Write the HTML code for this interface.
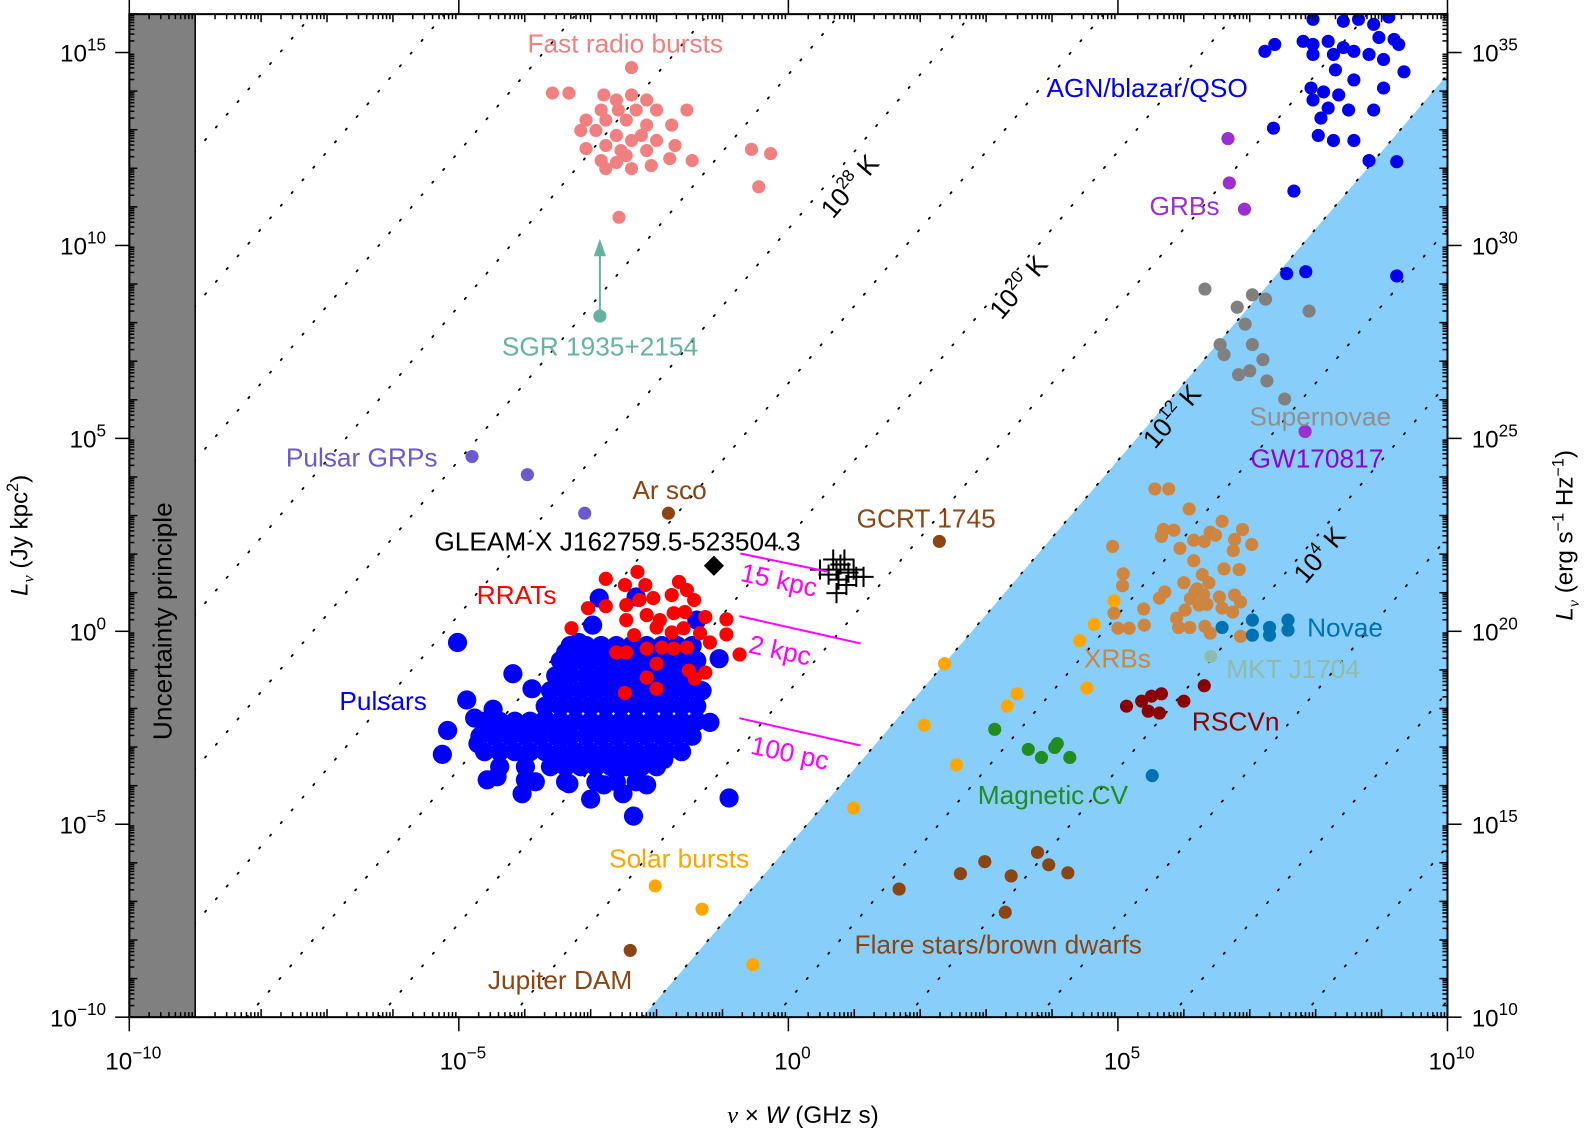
<!DOCTYPE html>
<html><head><meta charset="utf-8"><style>
html,body{margin:0;padding:0;background:#fff;overflow:hidden;width:1584px;height:1132px;}
svg{display:block;font-family:"Liberation Sans",Arial,sans-serif;overflow:hidden;}
</style></head><body>
<svg id="chart" width="1584" height="1132" viewBox="0 0 1584 1132">
<defs><clipPath id="plotclip"><rect x="128" y="14" width="1305" height="993"/></clipPath></defs>
<g transform="scale(1.0101)">
<g id="bg" clip-path="url(#plotclip)"></g>
<g id="marks" clip-path="url(#plotclip)"></g>
<g id="axes"></g>
<g font-size="26">
<text x="619" y="52" text-anchor="middle" fill="#f08080">Fast radio bursts</text>
<text x="1036" y="96" fill="#0000ee">AGN/blazar/QSO</text>
<text x="1138" y="213" fill="#9b30d0">GRBs</text>
<text x="594" y="352" text-anchor="middle" fill="#66b2a0">SGR 1935+2154</text>
<text x="1237" y="421" fill="#909090">Supernovae</text>
<text x="1238" y="463" fill="#9400d3">GW170817</text>
<text x="283" y="462" fill="#6a5acd">Pulsar GRPs</text>
<text x="626" y="494" fill="#8b4513">Ar sco</text>
<text x="848" y="522" fill="#8b4513">GCRT 1745</text>
<text x="430" y="545" fill="#000">GLEAM-X J162759.5-523504.3</text>
<text x="472" y="598" fill="#ff0000">RRATs</text>
<text x="336" y="703" fill="#0000ff">Pulsars</text>
<text x="1073" y="661" fill="#cd853f">XRBs</text>
<text x="1294" y="630" fill="#0072b2">Novae</text>
<text x="1214" y="671" fill="#8fbcaa">MKT J1704</text>
<text x="1180" y="723" fill="#8b0000">RSCVn</text>
<text x="968" y="796" fill="#228b22">Magnetic CV</text>
<text x="603" y="859" fill="#ffa500">Solar bursts</text>
<text x="846" y="944" fill="#8b4513">Flare stars/brown dwarfs</text>
<text x="483" y="979" fill="#8b4513">Jupiter DAM</text>
<text transform="translate(732,575) rotate(12)" fill="#ff00ff">15 kpc</text>
<text transform="translate(740,646) rotate(12)" fill="#ff00ff">2 kpc</text>
<text transform="translate(742,746) rotate(12)" fill="#ff00ff">100 pc</text>
<text transform="translate(170,615) rotate(-90)" text-anchor="middle" fill="#000">Uncertainty principle</text>
<text transform="translate(848,190) rotate(-49.5)" text-anchor="middle" fill="#000">10<tspan dy="-11" font-size="17">28</tspan><tspan dy="11"> K</tspan></text>
<text transform="translate(1015,290) rotate(-49.5)" text-anchor="middle" fill="#000">10<tspan dy="-11" font-size="17">20</tspan><tspan dy="11"> K</tspan></text>
<text transform="translate(1167,418) rotate(-49.5)" text-anchor="middle" fill="#000">10<tspan dy="-11" font-size="17">12</tspan><tspan dy="11"> K</tspan></text>
<text transform="translate(1313,555) rotate(-49.5)" text-anchor="middle" fill="#000">10<tspan dy="-11" font-size="17">4</tspan><tspan dy="11"> K</tspan></text>
</g>
<g font-size="24">
<text x="795" y="1112" text-anchor="middle"><tspan font-style="italic" font-family="Liberation Serif">ν</tspan> × <tspan font-style="italic">W</tspan> (GHz s)</text>
<text transform="translate(27,530) rotate(-90)" text-anchor="middle"><tspan font-style="italic">L</tspan><tspan font-style="italic" font-size="16" dy="6" font-family="Liberation Serif">ν</tspan><tspan dy="-6"> (Jy kpc</tspan><tspan dy="-9" font-size="16">2</tspan><tspan dy="9">)</tspan></text>
<text transform="translate(1557,530) rotate(-90)" text-anchor="middle"><tspan font-style="italic">L</tspan><tspan font-style="italic" font-size="16" dy="6" font-family="Liberation Serif">ν</tspan><tspan dy="-6"> (erg s</tspan><tspan dy="-9" font-size="16">−1</tspan><tspan dy="9"> Hz</tspan><tspan dy="-9" font-size="16">−1</tspan><tspan dy="9">)</tspan></text>
</g>
</g>
</svg>
<script>
// ---- data (log10 values: x = nu*W in GHz s, y = L_nu in Jy kpc^2) ----
const xTickExps = [-10,-5,0,5,10];
const yTickExps = [-10,-5,0,5,10,15];
const rightTickExps = [10,15,20,25,30,35];
const tempLineOffsets = [-29.57,-25.57,-21.57,-17.57,-13.57,-9.57,-5.57,-1.57,2.43,6.43,10.43,14.43,18.43,22.43,26.43,30.43,34.43];
const brightEdgeOffset = -5.57;
const uncertaintyLimit = -9;

const frb = [[-2.38,14.61],[-3.58,13.95],[-3.33,13.95],[-2.80,13.90],[-2.61,13.77],[-2.38,13.90],[-2.15,13.77],[-2.84,13.51],[-2.58,13.51],[-2.31,13.51],[-2.00,13.51],[-1.54,13.51],[-3.07,13.25],[-2.77,13.25],[-2.46,13.25],[-2.15,13.12],[-1.77,13.12],[-2.92,12.98],[-2.61,12.85],[-2.23,12.85],[-3.15,12.98],[-2.77,12.59],[-2.38,12.72],[-2.00,12.72],[-3.07,12.51],[-2.54,12.46],[-2.15,12.46],[-1.72,12.59],[-2.84,12.20],[-2.61,12.15],[-2.38,11.99],[-2.08,12.07],[-1.80,12.25],[-1.46,12.20],[-2.77,11.99],[-2.46,12.33],[-0.56,12.49],[-0.27,12.38],[-0.45,11.52],[-2.57,10.73]];
const sgr = [[-2.86,8.17]];
const agn = [[7.23,15.03],[7.38,15.21],[7.81,15.29],[7.96,15.21],[8.19,15.29],[8.42,15.13],[8.65,15.86],[8.88,15.73],[9.11,15.92],[9.19,15.34],[9.26,15.21],[7.96,14.95],[8.27,14.95],[8.58,15.03],[8.81,14.95],[9.03,14.82],[8.30,14.55],[9.34,14.50],[7.93,14.08],[8.12,13.98],[8.35,13.90],[8.58,14.29],[7.96,13.77],[8.19,13.56],[8.50,13.51],[8.88,13.51],[7.36,13.04],[8.04,12.85],[8.27,12.72],[8.58,12.72],[8.08,13.30],[7.96,15.86],[8.42,15.81],[8.81,12.20],[9.23,12.17],[7.67,11.41],[7.56,9.27],[7.85,9.32],[9.23,9.21],[9.03,14.08],[8.96,15.39]];
const grb = [[6.67,12.77],[6.69,11.62],[6.92,10.94]];
const gw = [[7.84,5.18]];
const sne = [[6.32,8.87],[6.81,8.40],[7.04,8.72],[7.24,8.61],[6.93,7.96],[6.55,7.43],[6.61,7.17],[7.04,7.43],[7.20,7.04],[6.83,6.65],[7.00,6.75],[7.26,6.49],[7.53,6.02],[7.90,8.30]];
const grp = [[-4.80,4.53],[-3.96,4.06],[-3.09,3.06]];
const arsco = [[-1.82,3.06]];
const gcrt = [[2.29,2.33]];
const gleamx = [[-1.13,1.70]];
const gleamPulses = [[0.68,1.86],[0.79,1.73],[0.91,1.52],[1.03,1.41],[0.61,1.47],[0.76,1.34],[0.88,1.20],[0.73,0.99],[0.99,1.60],[1.14,1.41],[0.48,1.60],[0.73,1.60],[0.85,1.86]];
const jupiter = [[-2.40,-8.27]];
const solar = [[-2.02,-6.60],[-1.31,-7.20],[-0.54,-8.64],[0.99,-4.58],[2.06,-2.43],[2.37,-0.84],[2.55,-3.46],[3.32,-1.94],[3.47,-1.62],[4.42,-0.24],[4.64,0.18],[4.53,-1.47],[4.94,0.79]];
const mcv = [[3.13,-2.54],[3.64,-3.06],[3.84,-3.27],[4.04,-3.01],[4.08,-2.91],[4.27,-3.27]];
const flare = [[1.68,-6.68],[2.61,-6.28],[2.98,-5.97],[3.38,-6.34],[3.78,-5.73],[3.95,-6.05],[4.24,-6.26],[3.29,-7.28]];
const rscvn = [[5.13,-1.94],[5.36,-1.81],[5.46,-2.07],[5.51,-1.68],[5.66,-1.62],[5.63,-2.12],[6.00,-1.81],[6.31,-1.41]];
const novae = [[6.58,0.10],[7.04,0.29],[7.30,0.10],[7.58,0.29],[7.04,-0.10],[7.30,-0.10],[7.58,0.03],[5.52,-3.74]];
const mkt = [[6.41,-0.65]];
const xrb = [[5.56,3.69],[5.77,3.69],[6.08,3.17],[6.58,2.85],[5.69,2.64],[5.85,2.62],[5.66,2.46],[6.15,2.36],[6.31,2.33],[6.40,2.57],[6.48,2.49],[6.77,2.38],[6.89,2.64],[7.03,2.25],[6.75,2.09],[4.92,2.20],[5.94,2.15],[6.15,1.83],[6.61,1.62],[6.84,1.60],[5.08,1.49],[5.07,1.18],[6.00,1.26],[6.28,1.47],[6.38,1.26],[6.17,1.02],[6.54,0.89],[6.77,0.94],[6.86,0.76],[5.71,1.02],[5.63,0.86],[6.23,0.68],[6.58,0.60],[6.74,0.50],[5.39,0.58],[4.94,0.47],[6.02,0.55],[5.89,0.34],[5.00,0.08],[5.17,0.08],[5.40,0.16],[5.92,0.10],[6.09,0.10],[6.32,0.13],[6.40,-0.05],[6.86,-0.13],[6.20,1.10],[6.30,0.95],[6.10,0.85],[6.35,0.70]];
const pulsars = [
[-5.02,-0.29],[-4.18,-1.10],[-4.88,-1.78],[-5.17,-2.57],[-5.25,-3.19],[-4.76,-2.25],[-4.48,-2.02],[-4.57,-3.85],[-4.04,-4.21],[-3.00,-4.35],[-2.35,-4.79],[-0.90,-4.32],[-1.19,-2.36],[-1.05,-0.71],[-1.65,-2.51],[-1.89,-3.32],[-2.15,-3.98],[-2.51,-4.21],[-2.80,-3.98],[-3.33,-3.95],[-3.99,-3.85],[-4.42,-3.77],[-4.71,-2.91],[-4.30,-2.64],[-3.89,-1.49],[-3.69,-2.28],[-3.38,-0.55],[-2.87,0.86],[-2.97,0.16],[-3.18,-0.29],[-2.31,0.89],[-1.39,0.29],
[-3.31,-0.37],[-3.07,-0.37],[-2.84,-0.37],[-2.61,-0.37],[-2.38,-0.37],[-2.15,-0.37],[-1.92,-0.37],[-1.69,-0.37],[-1.46,-0.37],
[-3.46,-0.76],[-3.23,-0.76],[-3.00,-0.76],[-2.77,-0.76],[-2.54,-0.76],[-2.31,-0.76],[-2.08,-0.76],[-1.85,-0.76],[-1.62,-0.76],[-1.39,-0.76],
[-3.53,-1.15],[-3.31,-1.15],[-3.07,-1.15],[-2.84,-1.15],[-2.61,-1.15],[-2.38,-1.15],[-2.15,-1.15],[-1.92,-1.15],[-1.69,-1.15],[-1.46,-1.15],
[-3.61,-1.54],[-3.38,-1.54],[-3.15,-1.54],[-2.92,-1.54],[-2.69,-1.54],[-2.46,-1.54],[-2.23,-1.54],[-2.00,-1.54],[-1.77,-1.54],[-1.54,-1.54],[-1.31,-1.54],
[-3.69,-1.94],[-3.46,-1.94],[-3.23,-1.94],[-3.00,-1.94],[-2.77,-1.94],[-2.54,-1.94],[-2.31,-1.94],[-2.08,-1.94],[-1.85,-1.94],[-1.62,-1.94],[-1.39,-1.94],
[-4.61,-2.33],[-4.38,-2.33],[-4.15,-2.33],[-3.92,-2.33],[-3.69,-2.33],[-3.46,-2.33],[-3.23,-2.33],[-3.00,-2.33],[-2.77,-2.33],[-2.54,-2.33],[-2.31,-2.33],[-2.08,-2.33],[-1.85,-2.33],[-1.62,-2.33],[-1.39,-2.33],
[-4.68,-2.72],[-4.45,-2.72],[-4.22,-2.72],[-3.99,-2.72],[-3.76,-2.72],[-3.53,-2.72],[-3.31,-2.72],[-3.07,-2.72],[-2.84,-2.72],[-2.61,-2.72],[-2.38,-2.72],[-2.15,-2.72],[-1.92,-2.72],[-1.69,-2.72],[-1.46,-2.72],
[-4.61,-3.12],[-4.38,-3.12],[-4.15,-3.12],[-3.92,-3.12],[-3.69,-3.12],[-3.46,-3.12],[-3.23,-3.12],[-3.00,-3.12],[-2.77,-3.12],[-2.54,-3.12],[-2.31,-3.12],[-2.08,-3.12],[-1.85,-3.12],[-1.62,-3.12],
[-4.38,-3.51],[-3.99,-3.51],[-3.61,-3.51],[-3.38,-3.51],[-3.15,-3.51],[-2.92,-3.51],[-2.69,-3.51],[-2.46,-3.51],[-2.23,-3.51],[-2.00,-3.51],
[-3.84,-3.90],[-3.38,-3.90],[-2.92,-3.90],[-2.61,-3.90],[-2.31,-3.90]];
const rrats = [[-2.77,1.36],[-2.29,1.54],[-2.48,1.20],[-2.17,1.20],[-1.66,1.28],[-1.54,1.07],[-3.04,0.60],[-2.77,0.65],[-2.46,0.68],[-2.26,0.81],[-2.05,0.86],[-1.77,0.94],[-1.43,0.81],[-3.29,0.08],[-2.46,0.29],[-2.15,0.42],[-1.95,0.29],[-1.74,0.47],[-1.57,0.50],[-1.26,0.37],[-0.94,0.31],[-0.94,-0.08],[-0.74,-0.60],[-2.34,-0.10],[-2.00,0.10],[-1.77,-0.03],[-1.59,0.08],[-1.34,-0.05],[-1.19,-0.29],[-2.61,-0.55],[-2.46,-0.55],[-2.15,-0.45],[-1.92,-0.42],[-1.74,-0.45],[-1.54,-0.42],[-2.00,-0.84],[-1.51,-1.02],[-1.26,-1.07],[-2.15,-1.20],[-1.42,-1.23],[-2.00,-1.49],[-2.48,-1.60]];

// ---- scales ----
const X = lx => 128 + (lx + 10) * 65.25;
const Y = ly => 1007 - (ly + 10) * 38.2;
const YMAX = 16.02;
const NS = 'http://www.w3.org/2000/svg';
function mk(tag, attrs, parent){const e=document.createElementNS(NS,tag);for(const k in attrs)e.setAttribute(k,attrs[k]);parent.appendChild(e);return e;}
const bg=document.getElementById('bg'), marks=document.getElementById('marks'), axes=document.getElementById('axes');

const lxEdge = (-10 - brightEdgeOffset)/2;
const lxTop = Math.min(10,(YMAX - brightEdgeOffset)/2);
const poly = mk('polygon',{points:`${X(lxEdge)},${Y(-10)} ${X(10)},${Y(-10)} ${X(10)},${Y(Math.min(YMAX,20+brightEdgeOffset))} ${X(lxTop)},${Y(Math.min(YMAX,2*lxTop+brightEdgeOffset))}`,fill:'#87cefa'},bg);


for(const c of tempLineOffsets){
  const a = Math.max(-10,(-10-c)/2), b = Math.min(10,(YMAX-c)/2);
  if(b<=a) continue;
  const l = mk('line',{x1:X(a),y1:Y(2*a+c),x2:X(b),y2:Y(2*b+c),stroke:'#000','stroke-width':1.8,'stroke-dasharray':'1.5 15','stroke-linecap':'round'},bg);
  
  
}
const unc = mk('rect',{x:X(-10),y:14,width:X(uncertaintyLimit)-X(-10),height:993,fill:'#808080',stroke:'#000','stroke-width':1.5},bg);



function drawGroup(arr,color,name,r){
  for(const p of arr){
    const c = mk('circle',{cx:X(p[0]),cy:Y(p[1]),r:r||6.5,fill:color},marks);
    
    
  }
}
drawGroup(frb,'#f08080','frb-point');
drawGroup(agn,'#0000ee','agn-point');
drawGroup(grb,'#9b30d0','grb-point');
drawGroup(gw,'#9b30d0','gw170817-point');
drawGroup(sne,'#808080','supernova-point');
drawGroup(grp,'#6a5acd','pulsar-grp-point');
drawGroup(arsco,'#8b4513','ar-sco-point');
drawGroup(gcrt,'#8b4513','gcrt-1745-point');
drawGroup(jupiter,'#8b4513','jupiter-dam-point');
drawGroup(xrb,'#cd853f','xrb-point');
drawGroup(solar,'#ffa500','solar-burst-point');
drawGroup(mcv,'#228b22','magnetic-cv-point');
drawGroup(flare,'#8b4513','flare-star-point');
drawGroup(rscvn,'#8b0000','rscvn-point');
drawGroup(novae,'#0072b2','nova-point');
drawGroup(mkt,'#8fbcaa','mkt-j1704-point');
drawGroup(pulsars,'#0000ff','pulsar-point',9.5);
drawGroup(rrats,'#ff0000','rrat-point',7);
const sx=X(sgr[0][0]), sy=Y(sgr[0][1]);
const ar = mk('line',{x1:sx,y1:sy,x2:sx,y2:Y(sgr[0][1]+1.7),stroke:'#66b2a0','stroke-width':2},marks);


const ah = mk('polygon',{points:`${sx},${Y(sgr[0][1]+2)} ${sx-6},${Y(sgr[0][1]+1.55)} ${sx+6},${Y(sgr[0][1]+1.55)}`,fill:'#66b2a0'},marks);


drawGroup(sgr,'#66b2a0','sgr-1935-point');
for(const p of gleamx){
  const x=X(p[0]), y=Y(p[1]);
  const d = mk('polygon',{points:`${x},${y-10} ${x+10},${y} ${x},${y+10} ${x-10},${y}`,fill:'#000'},marks);
  
  
}
for(const p of gleamPulses){
  const x=X(p[0]), y=Y(p[1]);
  const g = mk('path',{d:`M${x-10},${y}H${x+10}M${x},${y-10}V${y+10}`,stroke:'#000','stroke-width':2},marks);
  
  
}
const distLines=[[733,548,820,566],[732,610,852,637],[732,711,852,738]];
for(const d of distLines){
  const l=mk('line',{x1:d[0],y1:d[1],x2:d[2],y2:d[3],stroke:'#ff00ff','stroke-width':2},marks);
  
  
}

const fr = mk('rect',{x:128,y:14,width:1305,height:993,fill:'none',stroke:'#000','stroke-width':2},axes);


function tick(x1,y1,x2,y2){const t=mk('line',{x1,y1,x2,y2,stroke:'#000','stroke-width':1.5},axes);}
for(let d=-10; d<=10; d++){
  for(let m=1;m<10;m++){
    const lx=d+Math.log10(m); if(lx>10) break; const x=X(lx);
    if(m===1 && d%5===0){ tick(x,1007,x,1021); tick(x,14,x,0); }
    else { const len = m===1 ? 8 : 5; tick(x,1007,x,1007-len); tick(x,14,x,14+len); }
  }
}
for(let d=-10; d<17; d++){
  for(let m=1;m<10;m++){
    const ly=d+Math.log10(m); if(ly>YMAX) break; const y=Y(ly);
    if(m===1 && d%5===0){ tick(114,y,128,y); tick(1433,y,1447,y); }
    else { const len = m===1 ? 8 : 5; tick(128,y,128+len,y); tick(1433,y,1433-len,y); }
  }
}
function expLabel(x,y,exp,anchor,name){
  const t=mk('text',{x,y,'text-anchor':anchor,'font-size':24,fill:'#000'},axes);
  
  
  t.appendChild(document.createTextNode('10'));
  const s=mk('tspan',{dy:-11,'font-size':17},t); s.textContent = String(exp).replace('-','\u2212');
}
for(const e of xTickExps) expLabel(X(e)+4,1059,e,'middle','x-tick-label');
for(const e of yTickExps) expLabel(105,Y(e)+9,e,'end','y-tick-label');
for(const e of rightTickExps) expLabel(1457,Y(e-20)+9,e,'start','right-y-tick-label');
</script>
</body></html>
